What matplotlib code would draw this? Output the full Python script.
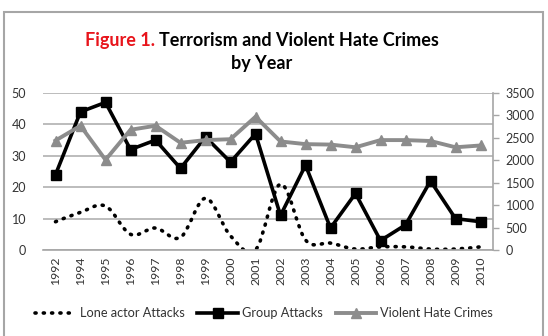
import numpy as np
import matplotlib
matplotlib.use("Agg")
import matplotlib.pyplot as plt
from matplotlib.path import Path
from matplotlib.patches import PathPatch, Rectangle
from matplotlib.lines import Line2D

plt.rcParams['font.family'] = ['Lato', 'DejaVu Sans']

years = ["1992", "1994", "1995", "1996", "1997", "1998", "1999", "2000", "2001",
         "2002", "2003", "2004", "2005", "2006", "2007", "2008", "2009", "2010"]
lone_actor = [9, 12, 14, 5, 7, 4, 16.5, 4.5, 0, 21, 3.2, 2.2, 0.3, 1, 1, 0.3, 0.3, 1]
group_attacks = [24, 44, 47, 32, 35, 26, 36, 28, 37, 11, 27, 7, 18, 3, 8, 22, 10, 9]
hate_crimes = [2440, 2770, 2010, 2680, 2770, 2390, 2450, 2470, 2970, 2420,
               2360, 2350, 2290, 2450, 2450, 2430, 2290, 2330]

left_ticks = [0, 10, 20, 30, 40, 50]
right_ticks = [0, 500, 1000, 1500, 2000, 2500, 3000, 3500]

W, H = 548, 336
fig = plt.figure(figsize=(W / 100, H / 100), dpi=100)
fig.patches.append(Rectangle((3.5 / W, -0.05), (543 - 3.5) / W, 1.05 - 12 / H,
                             transform=fig.transFigure, fill=False,
                             edgecolor='#a6a6a6', linewidth=1.5))

ax = fig.add_axes([43 / W, 1 - 250 / H, 450 / W, 157 / H])
x = np.arange(len(years))
ax.set_xlim(-0.5, len(years) - 0.5)
ax.set_ylim(0, 50)
ax.set_yticks(left_ticks)
ax.grid(axis='y', color='#b0b0b0', linewidth=1.2)
ax.set_axisbelow(True)
for s in ['top', 'left', 'right']:
    ax.spines[s].set_visible(False)
ax.spines['bottom'].set_color('#a6a6a6')
ax.spines['bottom'].set_linewidth(1.2)
ax.set_xticks(x)
ax.set_xticklabels(years, rotation=90, fontsize=8.8, color='#333333')
ax.tick_params(axis='x', length=0, pad=5)
ax.tick_params(axis='y', length=0, pad=12, labelsize=9, labelcolor='#333333')

# smoothed dotted line (Catmull-Rom style bezier, like Excel smoothing)
pts = np.column_stack([x, lone_actor]).astype(float)
verts = [tuple(pts[0])]
codes = [Path.MOVETO]
n = len(pts)
for i in range(n - 1):
    p0 = pts[i - 1] if i > 0 else pts[i]
    p1 = pts[i]
    p2 = pts[i + 1]
    p3 = pts[i + 2] if i + 2 < n else pts[i + 1]
    c1 = p1 + (p2 - p0) / 6.0
    c2 = p2 - (p3 - p1) / 6.0
    verts += [tuple(c1), tuple(c2), tuple(p2)]
    codes += [Path.CURVE4] * 3
dot_style = (0, (0.3, 2.0))
patch = PathPatch(Path(verts, codes), fill=False, edgecolor='black',
                  linewidth=2.6, linestyle=dot_style, capstyle='round',
                  zorder=2)
ax.add_patch(patch)

ax.plot(x, group_attacks, color='black', linewidth=2.6, marker='s',
        markersize=7.5, zorder=3)

ax2 = ax.twinx()
ax2.set_ylim(0, 3500)
ax2.set_yticks(right_ticks)
ax2.plot(x, hate_crimes, color='#8c8c8c', linewidth=2.8, marker='^',
         markersize=7.5, zorder=3)
for s in ['top', 'left', 'bottom']:
    ax2.spines[s].set_visible(False)
ax2.spines['right'].set_color('#a6a6a6')
ax2.spines['right'].set_linewidth(1.2)
ax2.tick_params(axis='y', length=4, width=1, color='#a6a6a6', pad=5,
                labelsize=9, labelcolor='#333333')

# title
title_size = 13
cx = 262
t1 = fig.text(0, 0, "Figure 1. ", color='#e8141b', fontsize=title_size, fontweight='bold')
t2 = fig.text(0, 0, "Terrorism and Violent Hate Crimes", color='black',
              fontsize=title_size, fontweight='bold')
fig.canvas.draw()
r = fig.canvas.get_renderer()
w1 = t1.get_window_extent(r).width
w2 = t2.get_window_extent(r).width
x0 = cx - (w1 + w2) / 2
t1.set_position((x0 / W, 1 - 46 / H))
t2.set_position(((x0 + w1) / W, 1 - 46 / H))
fig.text(cx / W, 1 - 69 / H, "by Year", ha='center', color='black',
         fontsize=title_size, fontweight='bold')

handles = [
    Line2D([], [], color='black', linewidth=2.6, linestyle=dot_style,
           dash_capstyle='round'),
    Line2D([], [], color='black', linewidth=2.6, marker='s', markersize=7),
    Line2D([], [], color='#8c8c8c', linewidth=2.8, marker='^', markersize=7),
]
labels = ["Lone actor Attacks", "Group Attacks", "Violent Hate Crimes"]
fig.legend(handles, labels, loc='center', bbox_to_anchor=(264 / W, 1 - 313 / H),
           ncol=3, frameon=False, fontsize=9.2, handlelength=3.2,
           handletextpad=0.3, columnspacing=1.0, labelcolor='#333333')

fig.savefig("out.png", dpi=100)
